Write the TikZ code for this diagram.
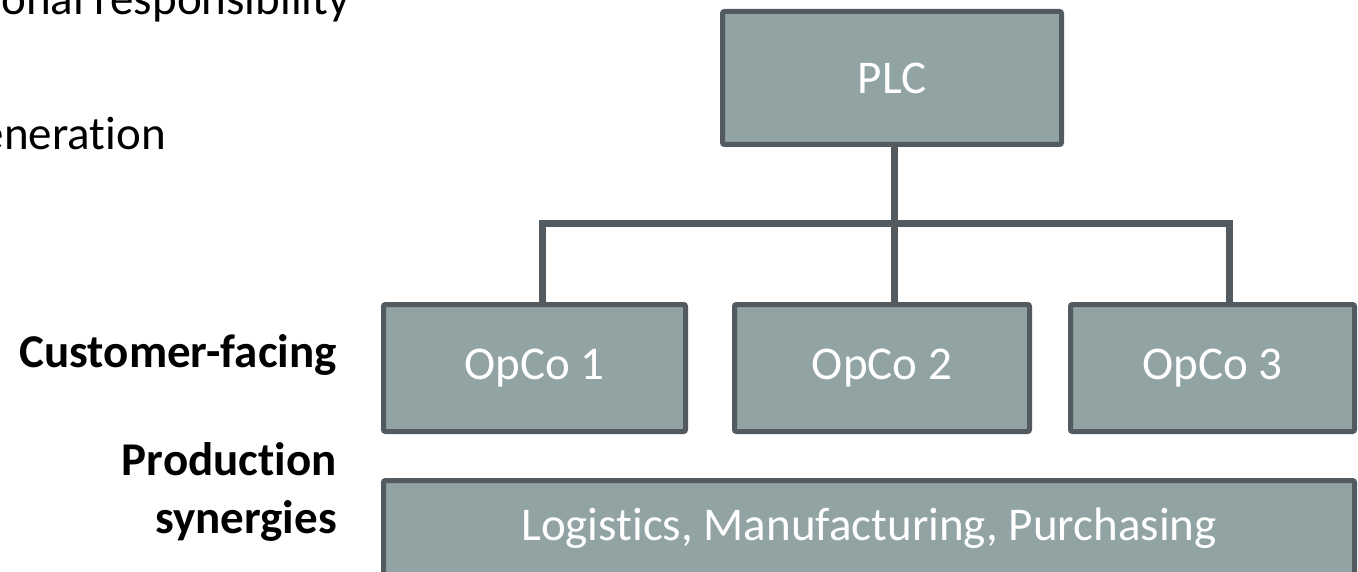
\documentclass[tikz,border=0pt]{standalone}
\usepackage{fontspec}
\setmainfont{Carlito}[Ligatures=NoCommon]
\definecolor{boxfill}{RGB}{145,163,162}
\definecolor{boxline}{RGB}{83,91,96}

\begin{document}
\begin{tikzpicture}[x=1pt,y=-1pt,
  unit/.style={draw=boxline, fill=boxfill, line width=5pt, rounded corners=2pt,
    text=white, font=\fontsize{47}{57}\selectfont, inner sep=0pt},
  link/.style={draw=boxline, line width=7pt},
  side/.style={font=\bfseries\fontsize{47}{58}\selectfont, anchor=base east,
    align=right, inner sep=0pt},
  note/.style={font=\fontsize{47}{57}\selectfont, anchor=base east, inner sep=0pt}]
\useasboundingbox (0,0) rectangle (1358,572);
\clip (0,0) rectangle (1358,572);

% boxes of the organisation chart
\node[unit, minimum width=339pt, minimum height=133pt] (plc) at (892,78) {PLC};
\node[unit, minimum width=302pt, minimum height=127pt] (opco1) at (534.5,368) {OpCo 1};
\node[unit, minimum width=295pt, minimum height=127pt] (opco2) at (882,368) {OpCo 2};
\node[unit, minimum width=284pt, minimum height=127pt] (opco3) at (1212.5,368) {OpCo 3};
\node[unit, minimum width=971pt, minimum height=95pt] (shared) at (869,528)
  {Logistics, Manufacturing, Purchasing};

% tree connectors
\coordinate (j1) at (542,223.5);
\coordinate (j2) at (894,223.5);
\coordinate (j3) at (1229.5,223.5);
\draw[link] (j1 |- opco1.north) -- (j1) -- (j3) -- (j3 |- opco3.north);
\draw[link] (plc.south -| j2) -- (j2 |- opco2.north);

% row labels
\node[side] (cust) at (337,367) {Customer-facing};
\node[side] (prod1) at (337,475) {Production};
\node[side] (prod2) at (337,533) {synergies};

% notes running in from the left
\node[note] (n1) at (350,15) {onal responsibility};
\node[note] (n2) at (166,150) {eneration};
\end{tikzpicture}
\end{document}
